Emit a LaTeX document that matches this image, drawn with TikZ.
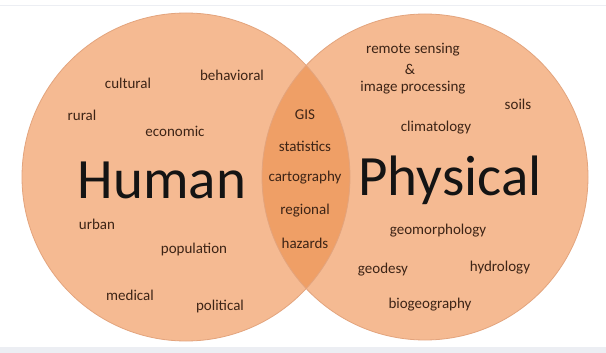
\documentclass[tikz,border=0pt]{standalone}
\usepackage{fontspec}
\setmainfont{Carlito}
\definecolor{peach}{HTML}{F5BA92}
\definecolor{lens}{HTML}{EF9F66}
\definecolor{rim}{HTML}{E3A47D}
\definecolor{ink}{HTML}{3D2416}
\definecolor{band}{HTML}{ECEEF3}
\begin{document}
\begin{tikzpicture}[x=1pt,y=-1pt,
  term/.style={text=ink,font=\fontsize{15}{16}\selectfont,inner sep=0pt},
  big/.style={text=black!92,font=\fontsize{57}{60}\selectfont,inner sep=0pt}]
\useasboundingbox (0,0) rectangle (606,353);
\fill[white] (0,0) rectangle (606,353);
\fill[band] (0,347) rectangle (606,353);
\draw[band,line width=1pt] (0,6) -- (606,6);
\coordinate (L) at (186,177);
\coordinate (R) at (425,177);
\fill[peach] (L) circle[radius=164];
\fill[peach] (R) circle[radius=163];
\begin{scope}
  \clip (L) circle[radius=164];
  \fill[lens] (R) circle[radius=163];
\end{scope}
\draw[rim,line width=0.8pt] (L) circle[radius=164];
\draw[rim,line width=0.8pt] (R) circle[radius=163];
% human
\node[term] (cultural) at (128,83) {cultural};
\node[term] (behavioral) at (232,75) {behavioral};
\node[term] (rural) at (82,115) {rural};
\node[term] (economic) at (175,131) {economic};
\node[big] (human) at (162,180) {Human};
\node[term] (urban) at (97,224) {urban};
\node[term] (population) at (194,250) {population};
\node[term] (medical) at (130,295) {medical};
\node[term] (political) at (220,306) {political};
% shared
\node[term] (gis) at (305,115) {GIS};
\node[term] (statistics) at (305,146) {statistics};
\node[term] (cartography) at (305,178) {cartography};
\node[term] (regional) at (305,211) {regional};
\node[term] (hazards) at (305,243) {hazards};
% physical
\node[term] (remote) at (413,50) {remote sensing};
\node[term] (amp) at (410,69) {\&};
\node[term] (image) at (413,88) {image processing};
\node[term] (soils) at (518,104) {soils};
\node[term] (climatology) at (436,128) {climatology};
\node[big] (physical) at (450,180) {Physical};
\node[term] (geomorphology) at (438,231) {geomorphology};
\node[term] (geodesy) at (383,270) {geodesy};
\node[term] (hydrology) at (500,268) {hydrology};
\node[term] (biogeography) at (430,305) {biogeography};
\end{tikzpicture}
\end{document}
